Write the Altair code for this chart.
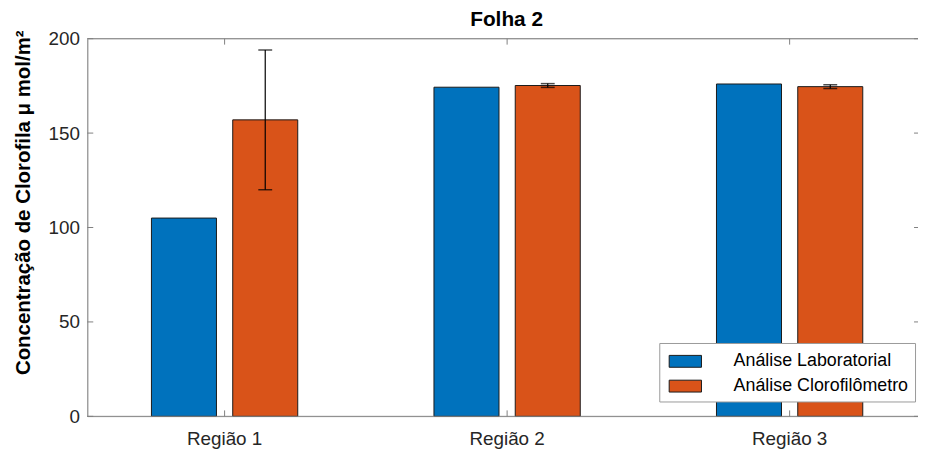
import altair as alt
import pandas as pd

regions = ["Região 1", "Região 2", "Região 3"]
series = ["Análise Laboratorial", "Análise Clorofilômetro"]
lab_values = [105, 174.3, 176]
clor_values = [157, 175.2, 174.6]
clor_err = [37, 1, 1]
y_ticks = [0, 50, 100, 150, 200]
colors = ["#0072BD", "#D95319"]

W = 838
H = 381
FONT = "Liberation Sans"
GRAY = "#808080"

bars = pd.DataFrame({
    "region": regions * 2,
    "series": [series[0]] * 3 + [series[1]] * 3,
    "value": lab_values + clor_values,
})
err = pd.DataFrame({
    "region": regions,
    "series": [series[1]] * 3,
    "lo": [v - e for v, e in zip(clor_values, clor_err)],
    "hi": [v + e for v, e in zip(clor_values, clor_err)],
})
cat_df = pd.DataFrame({"region": regions})
yt_df = pd.DataFrame({"y": y_ticks})
one = pd.DataFrame({"a": [0]})

xscale = alt.Scale(domain=regions, range=[-4, 851], paddingInner=0, paddingOuter=0)
xoff = alt.Scale(domain=series, paddingInner=0.2, paddingOuter=0.838)
yscale = alt.Scale(domain=[0, 200], nice=False, zero=True)

YTITLE = "Concentração de Clorofila μ mol/m²"

x_axis = alt.Axis(title=None, labelAngle=0, domain=False, ticks=False, tickSize=0,
                  labelPadding=13, labelFontSize=19, labelFont=FONT,
                  labelColor="#262626")
y_axis = alt.Axis(values=y_ticks, grid=False, ticks=False, tickSize=0,
                  labelPadding=8, labelFontSize=19, labelFont=FONT,
                  labelColor="#262626", domainColor=GRAY, domainWidth=1,
                  title=YTITLE,
                  titleFont=FONT, titleFontSize=20.6, titleFontWeight="bold",
                  titleColor="#000000", titleAngle=-90, titleX=-64, titleY=165,
                  titleAlign="center", titleBaseline="middle")


def X():
    return alt.X("region:N", scale=xscale, sort=regions, axis=x_axis, title=None)


def XO():
    return alt.XOffset("series:N", scale=xoff, sort=series)


def Y(field):
    return alt.Y(field, scale=yscale, axis=y_axis, title=YTITLE)


bar_layer = alt.Chart(bars).mark_bar(stroke="#1a1a1a", strokeWidth=1).encode(
    x=X(),
    xOffset=XO(),
    y=Y("value:Q"),
    color=alt.Color("series:N", sort=series,
                    scale=alt.Scale(domain=series, range=colors),
                    legend=alt.Legend(orient="none", legendX=577, legendY=307, title=None,
                                      symbolType="M-0.71,-0.5H2.01V0.5H-0.71Z",
                                      symbolSize=574, symbolStrokeColor="#1a1a1a",
                                      symbolStrokeWidth=1, symbolOpacity=1,
                                      labelFontSize=18, labelFont=FONT, labelColor="#000000",
                                      labelOffset=44, fillColor="white", strokeColor="#9a9a9a",
                                      padding=6, rowPadding=3, labelLimit=400)),
)

err_rule = alt.Chart(err).mark_rule(color="#000000", strokeWidth=1.2).encode(
    x=X(), xOffset=XO(), y=Y("lo:Q"), y2="hi:Q",
)
cap_hi = alt.Chart(err).mark_tick(color="#000000", thickness=1.5, size=14).encode(
    x=X(), xOffset=XO(), y=Y("hi:Q"),
)
cap_lo = alt.Chart(err).mark_tick(color="#000000", thickness=1.5, size=14).encode(
    x=X(), xOffset=XO(), y=Y("lo:Q"),
)

top_line = alt.Chart(one).mark_rule(color=GRAY, strokeWidth=1).encode(
    x=alt.value(0), x2=alt.value(W + 6), y=alt.value(0))
bottom_line = alt.Chart(one).mark_rule(color=GRAY, strokeWidth=1).encode(
    x=alt.value(0), x2=alt.value(W + 6), y=alt.value(H))
right_line = alt.Chart(one).mark_rule(color=GRAY, strokeWidth=1).encode(
    x=alt.value(W + 2), y=alt.value(0), y2=alt.value(H))

yt_left = alt.Chart(yt_df).mark_rule(color=GRAY, strokeWidth=1).encode(
    y=Y("y:Q"), x=alt.value(0), x2=alt.value(6))
yt_right = alt.Chart(yt_df).mark_rule(color=GRAY, strokeWidth=1).encode(
    y=Y("y:Q"), x=alt.value(W - 4), x2=alt.value(W + 2))
xt_bottom = alt.Chart(cat_df).mark_rule(color=GRAY, strokeWidth=1).encode(
    x=X(), y=alt.value(H - 6), y2=alt.value(H))
xt_top = alt.Chart(cat_df).mark_rule(color=GRAY, strokeWidth=1).encode(
    x=X(), y=alt.value(0), y2=alt.value(6))

chart = alt.layer(
    bar_layer, err_rule, cap_hi, cap_lo,
    yt_left, yt_right, xt_bottom, xt_top,
    top_line, bottom_line, right_line,
).properties(
    width=W, height=H,
    title=alt.TitleParams("Folha 2", font=FONT, fontSize=21, fontWeight="bold",
                          color="#000000", anchor="middle", frame="group", offset=0, dx=4),
    autosize=alt.AutoSizeParams(type="none"),
    padding={"left": 80, "top": 29, "right": 0, "bottom": 32},
).configure_view(stroke=None).configure(background="white")

chart.save("out.html", embed_options={"renderer": "svg", "actions": False})
